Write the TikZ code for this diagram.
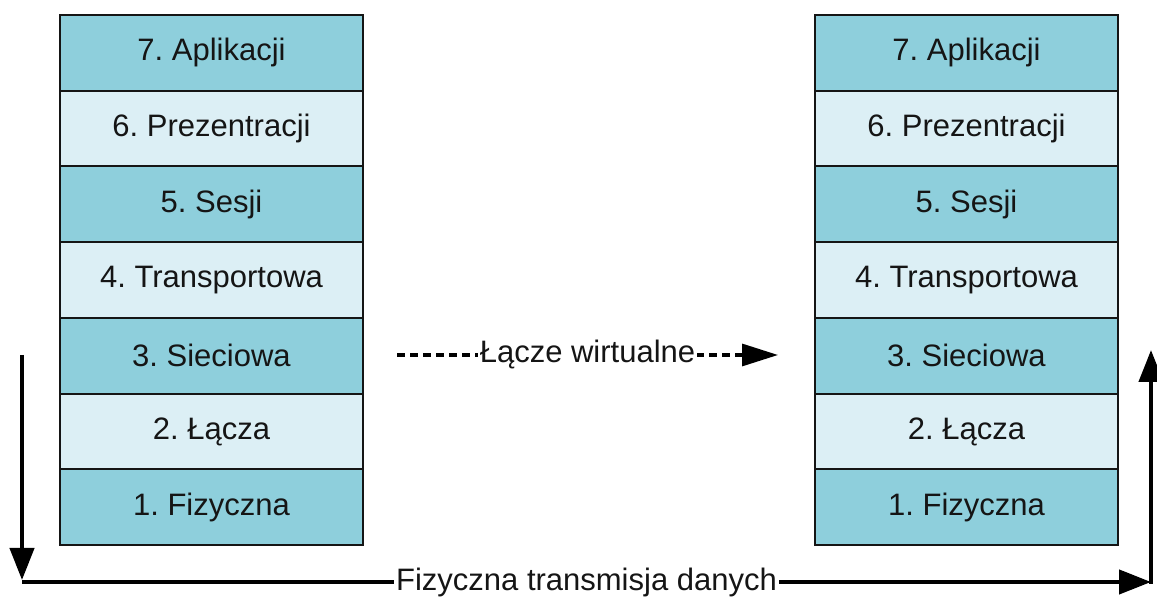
\documentclass[tikz,border=0pt]{standalone}
\usepackage{fontspec}
\setmainfont{Liberation Sans}
\usetikzlibrary{arrows.meta}
\definecolor{layerdark}{HTML}{8ECFDC}
\definecolor{layerlight}{HTML}{DCEFF5}
\definecolor{inkblack}{HTML}{151515}
\frenchspacing
\begin{document}
\begin{tikzpicture}[x=0.5pt,y=-0.5pt,
  layer/.style={draw=inkblack, line width=1pt, minimum width=151.5pt,
    minimum height=37.86pt, inner sep=0pt, outer sep=0pt, anchor=north west,
    font=\fontsize{15.5pt}{18pt}\selectfont, text=inkblack},
  darklayer/.style={layer, fill=layerdark},
  lightlayer/.style={layer, fill=layerlight},
  flow/.style={line width=2.2pt, draw=black,
    -{Triangle[length=16pt,width=12pt]}},
  virtual/.style={line width=1.6pt, draw=black, dash pattern=on 4pt off 2.5pt,
    -{Triangle[length=18pt,width=11pt]}},
  lbl/.style={fill=white, inner sep=1pt, font=\fontsize{15.5pt}{18pt}\selectfont,
    text=inkblack}]
\useasboundingbox (0,0) rectangle (1157,597);

% left protocol stack
\node[darklayer]  (L7) at (60,15)      {7. Aplikacji};
\node[lightlayer] (L6) at (L7.south west) {6. Prezentracji};
\node[darklayer]  (L5) at (L6.south west) {5. Sesji};
\node[lightlayer] (L4) at (L5.south west) {4. Transportowa};
\node[darklayer]  (L3) at (L4.south west) {3. Sieciowa};
\node[lightlayer] (L2) at (L3.south west) {2. Łącza};
\node[darklayer]  (L1) at (L2.south west) {1. Fizyczna};

% right protocol stack
\node[darklayer]  (R7) at (815,15)     {7. Aplikacji};
\node[lightlayer] (R6) at (R7.south west) {6. Prezentracji};
\node[darklayer]  (R5) at (R6.south west) {5. Sesji};
\node[lightlayer] (R4) at (R5.south west) {4. Transportowa};
\node[darklayer]  (R3) at (R4.south west) {3. Sieciowa};
\node[lightlayer] (R2) at (R3.south west) {2. Łącza};
\node[darklayer]  (R1) at (R2.south west) {1. Fizyczna};

% virtual link between the network layers
\coordinate (vStart) at (397,355);
\coordinate (vEnd)   at (778,355);
\draw[virtual] (vStart) -- node[lbl] (vLabel) {Łącze wirtualne} (vEnd);

% physical transmission path
\coordinate (downTop)  at (22,355);
\coordinate (downTip)  at (22,580);
\coordinate (cornerL)  at (22,582);
\coordinate (cornerR)  at (1151,582);
\coordinate (upBase)   at (1151,584);
\coordinate (upTip)    at (1151,350);
\draw[flow] (downTop) -- (downTip);
\draw[flow] (cornerL) -- node[lbl] (pLabel) {Fizyczna transmisja danych} (cornerR);
\draw[flow] (upBase) -- (upTip);
\end{tikzpicture}
\end{document}
